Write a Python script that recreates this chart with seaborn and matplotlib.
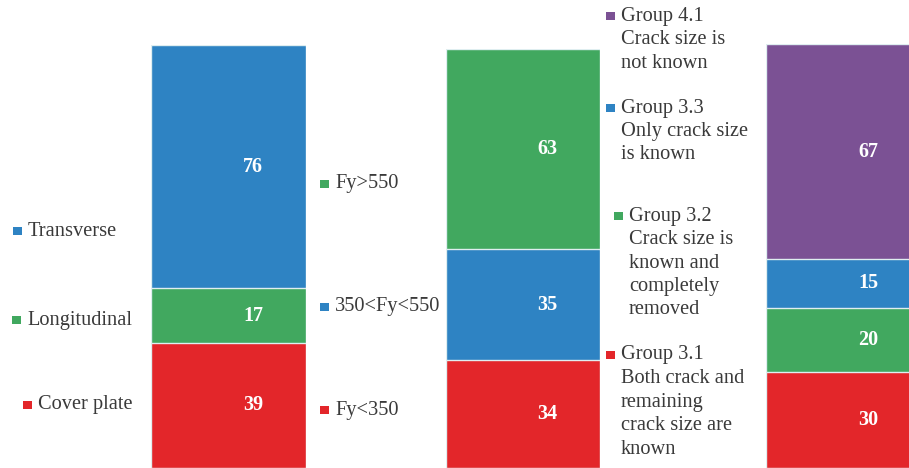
import matplotlib
matplotlib.use("Agg")
import matplotlib.pyplot as plt
from matplotlib.patches import Rectangle
import seaborn as sns
import pandas as pd
import numpy as np

# ---------------- data ----------------
orient_labels = ["Cover plate", "Longitudinal", "Transverse"]
orient_values = [39, 17, 76]

fy_labels = ["Fy<350", "350<Fy<550", "Fy>550"]
fy_values = [34, 35, 63]

group_labels = [
    "Group 3.1\nBoth crack and\nremaining\ncrack size are\nknown",
    "Group 3.2\nCrack size is\nknown and\ncompletely\nremoved",
    "Group 3.3\nOnly crack size\nis known",
    "Group 4.1\nCrack size is\nnot known",
]
group_values = [30, 20, 15, 67]

# ---------------- style ----------------
RED = "#E3262A"
GREEN = "#41A85F"
BLUE = "#2E83C3"
PURPLE = "#7B5194"
TEXT = "#3a3a3a"

sns.set_theme(style="white")
plt.rcParams["font.family"] = "serif"
plt.rcParams["font.serif"] = ["Liberation Serif", "DejaVu Serif"]

W, H = 909, 468
fig = plt.figure(figsize=(W / 100, H / 100), dpi=100)
fig.patch.set_facecolor("white")


def px_axes(left, top, width, bottom=H):
    return fig.add_axes([left / W, 1 - bottom / H, width / W, (bottom - top) / H])


def stacked(ax, labels, values, colors):
    cum = np.cumsum(values)
    total = cum[-1]
    # draw from the tallest cumulative down so lower segments sit on top
    for i in range(len(values) - 1, -1, -1):
        df = pd.DataFrame({"x": ["bar"], "y": [cum[i]]})
        sns.barplot(data=df, x="x", y="y", color=colors[i], width=1.0,
                    saturation=1, edgecolor="#dfeef0", linewidth=1.0, ax=ax)
    for i, v in enumerate(values):
        mid = cum[i] - v / 2
        ax.text(0.16, mid, str(v), ha="center", va="center", color="white",
                fontsize=14.5, fontweight="bold", family="serif")
    ax.set_xlim(-0.5, 0.5)
    ax.set_ylim(0, total)
    ax.set_axis_off()


ax1 = px_axes(150.7, 44.7, 155.3)
stacked(ax1, orient_labels, orient_values, [RED, GREEN, BLUE])

ax2 = px_axes(445.7, 49.0, 154.6)
stacked(ax2, fy_labels, fy_values, [RED, BLUE, GREEN])

ax3 = px_axes(765.7, 44.3, 155.0)
stacked(ax3, group_labels, group_values, [RED, GREEN, BLUE, PURPLE])


# ---------------- legends (hand placed) ----------------
def legend_item(mx, y, label, color, size=8.5, gap=6.5, lh=23.5):
    fig.add_artist(Rectangle(((mx) / W, 1 - (y + size / 2) / H), size / W, size / H,
                             transform=fig.transFigure, facecolor=color,
                             edgecolor="none"))
    lines = label.split("\n")
    for k, line in enumerate(lines):
        fig.text((mx + size + gap) / W, 1 - (y + k * lh) / H, line,
                 ha="left", va="center", fontsize=14.7, color=TEXT,
                 family="serif")


legend_item(13, 231, orient_labels[2], BLUE)
legend_item(12, 320, orient_labels[1], GREEN)
legend_item(23, 405, orient_labels[0], RED)

legend_item(320, 184, fy_labels[2], GREEN)
legend_item(320, 307, fy_labels[1], BLUE)
legend_item(320, 410, fy_labels[0], RED)

legend_item(606, 16, group_labels[3], PURPLE)
legend_item(606, 108, group_labels[2], BLUE)
legend_item(614, 216, group_labels[1], GREEN)
legend_item(606, 355, group_labels[0], RED)

fig.savefig("out.png", dpi=100, facecolor="white")
